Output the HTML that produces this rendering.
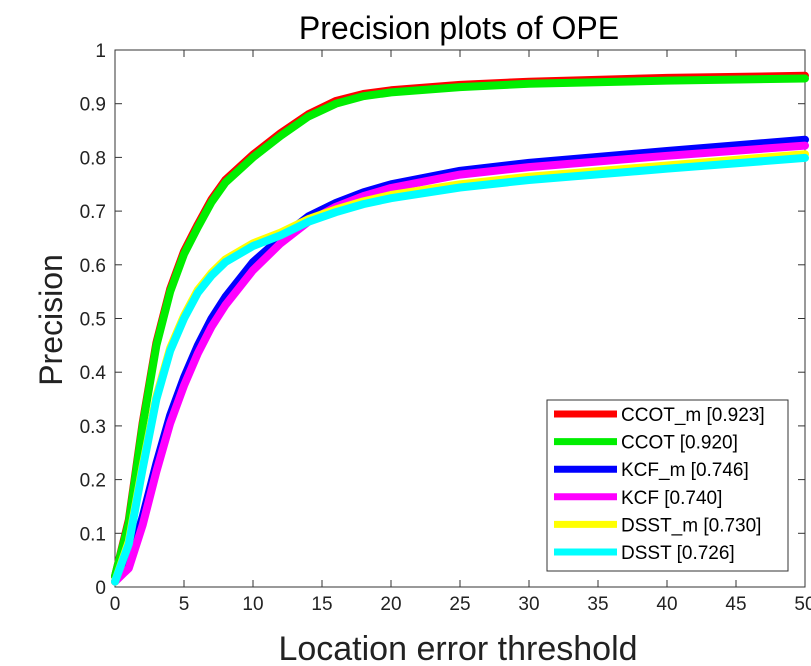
<!DOCTYPE html>
<html><head><meta charset="utf-8"><style>
body{margin:0;background:#fff;}
svg{display:block;font-family:"Liberation Sans",Arial,sans-serif;}
</style></head><body>
<svg id="chart" width="811" height="666">
<text x="459" y="39" font-size="32" text-anchor="middle" fill="#000">Precision plots of OPE</text>
<text x="458" y="660" font-size="34" text-anchor="middle" fill="#222">Location error threshold</text>
<text transform="translate(62,320) rotate(-90)" font-size="32" text-anchor="middle" fill="#222">Precision</text>
<g id="axes"></g>
<g id="series"></g>
<g id="legend"></g>
</svg>
<script>
const thresholds=[0,1,2,3,4,5,6,7,8,10,12,14,16,18,20,25,30,40,50];
const ccotM=[0.02,0.125,0.305,0.455,0.555,0.625,0.675,0.722,0.758,0.805,0.845,0.88,0.905,0.918,0.925,0.935,0.941,0.948,0.952];
const ccot=[0.02,0.12,0.3,0.45,0.55,0.62,0.67,0.717,0.753,0.8,0.84,0.876,0.9,0.914,0.921,0.931,0.937,0.943,0.947];
const kcfM=[0.01,0.045,0.13,0.23,0.32,0.39,0.45,0.5,0.54,0.605,0.65,0.69,0.715,0.735,0.75,0.775,0.79,0.812,0.833];
const kcf=[0.01,0.035,0.115,0.215,0.305,0.375,0.435,0.485,0.525,0.59,0.64,0.68,0.708,0.728,0.743,0.768,0.782,0.803,0.822];
const dsstM=[0.01,0.085,0.225,0.355,0.445,0.505,0.553,0.585,0.61,0.64,0.66,0.685,0.703,0.718,0.73,0.75,0.764,0.785,0.806];
const dsst=[0.01,0.08,0.22,0.35,0.44,0.5,0.548,0.58,0.605,0.635,0.655,0.68,0.698,0.713,0.724,0.744,0.758,0.779,0.799];
const seriesNames=["CCOT_m [0.923]","CCOT [0.920]","KCF_m [0.746]","KCF [0.740]","DSST_m [0.730]","DSST [0.726]"];
const seriesData=[ccotM,ccot,kcfM,kcf,dsstM,dsst];
const seriesColors=["#ff0000","#00ee00","#0000ff","#ff00ff","#ffff00","#00ffff"];
const xTicks=[0,5,10,15,20,25,30,35,40,45,50];
const yTicks=[0,0.1,0.2,0.3,0.4,0.5,0.6,0.7,0.8,0.9,1];
const yTickLabels=["0","0.1","0.2","0.3","0.4","0.5","0.6","0.7","0.8","0.9","1"];

const X0=115,X1=805,Y0=587,Y1=50;
const sx=v=>X0+(v-0)/(50-0)*(X1-X0);
const sy=v=>Y0-(v-0)/(1-0)*(Y0-Y1);
const NS="http://www.w3.org/2000/svg";
function mk(tag,attrs,parent){const e=document.createElementNS(NS,tag);for(const k in attrs)e.setAttribute(k,attrs[k]);parent.appendChild(e);return e;}
const axes=document.getElementById('axes');
const frame=mk('rect',{x:X0,y:Y1,width:X1-X0,height:Y0-Y1,fill:'none',stroke:'#333','stroke-width':1},axes);


xTicks.forEach((t,i)=>{
  const x=sx(t);
  mk('line',{x1:x,x2:x,y1:Y0,y2:Y0-7,stroke:'#333'},axes);
  mk('line',{x1:x,x2:x,y1:Y1,y2:Y1+7,stroke:'#333'},axes);
  const tx=mk('text',{x:x,y:Y0+23,'font-size':19,'text-anchor':'middle',fill:'#222'},axes);
  tx.textContent=t;
  
  
});
yTicks.forEach((t,i)=>{
  const y=sy(t);
  mk('line',{x1:X0,x2:X0+7,y1:y,y2:y,stroke:'#333'},axes);
  mk('line',{x1:X1,x2:X1-7,y1:y,y2:y,stroke:'#333'},axes);
  const tx=mk('text',{x:X0-9,y:y+7,'font-size':19,'text-anchor':'end',fill:'#222'},axes);
  tx.textContent=yTickLabels[i];
  
  
});
const sg=document.getElementById('series');
seriesData.forEach((d,i)=>{
  let p='';
  thresholds.forEach((t,j)=>{p+=(j?'L':'M')+sx(t).toFixed(1)+','+sy(d[j]).toFixed(1);});
  const path=mk('path',{d:p,fill:'none',stroke:seriesColors[i],'stroke-width':8,'stroke-linejoin':'round','stroke-linecap':'round'},sg);
  
  
});
const lg=document.getElementById('legend');
const box=mk('rect',{x:547,y:400,width:241,height:171,fill:'#fff',stroke:'#333','stroke-width':1},lg);


seriesNames.forEach((n,i)=>{
  const y=414+i*27.6;
  const ln=mk('line',{x1:554,x2:617,y1:y,y2:y,stroke:seriesColors[i],'stroke-width':7},lg);
  
  
  const tx=mk('text',{x:621,y:y+7,'font-size':19,fill:'#000'},lg);
  tx.textContent=n;
  
  
});
</script>
</body></html>
